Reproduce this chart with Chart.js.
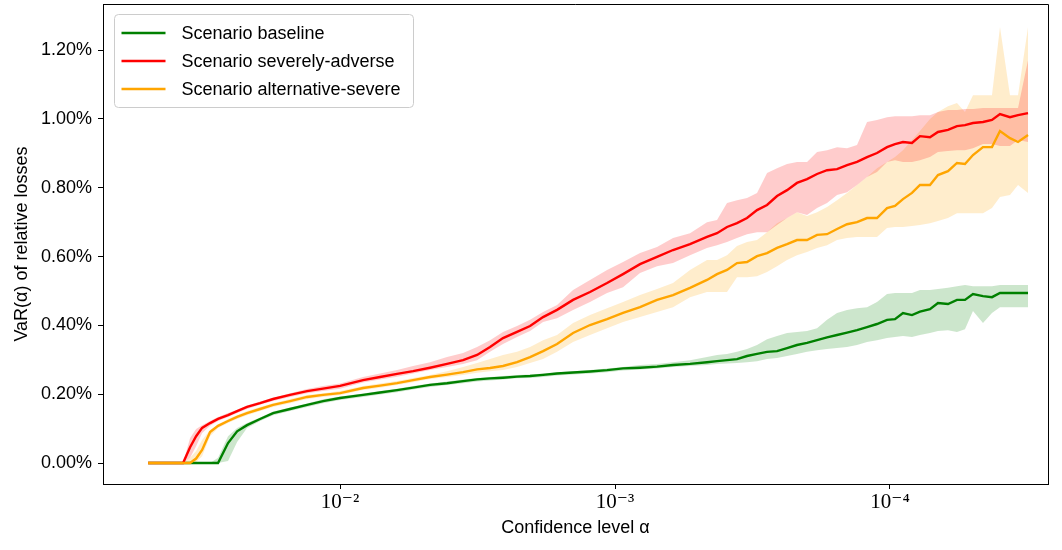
<!DOCTYPE html>
<html lang="en">
<head>
<meta charset="utf-8">
<title>VaR by scenario</title>
<script src="https://cdn.jsdelivr.net/npm/chart.js@4.4.1/dist/chart.umd.min.js"></script>
<style>
  body { margin: 0; background: #ffffff; }
  #varChart { display: block; }
</style>
</head>
<body>
<canvas id="varChart" width="1062" height="550"></canvas>
<script>
// confidence levels alpha, shared by every series
const alphas = [
  0.0499, 0.03723, 0.03511, 0.03338, 0.03175, 0.02970, 0.02778, 0.02555, 0.02368, 0.02179,
  0.01954, 0.01752, 0.01520, 0.01318, 0.01153, 0.01000, 0.008249, 0.007154, 0.006205, 0.005427,
  0.004708, 0.004083, 0.003571, 0.003175, 0.002848, 0.002555, 0.002272, 0.002037, 0.001827, 0.001625,
  0.001421, 0.001233, 0.001069, 0.0009352, 0.0008111, 0.0007036, 0.0006153, 0.0005337, 0.0004630, 0.0004257,
  0.0003915, 0.0003601, 0.0003311, 0.0003045, 0.0002800, 0.0002575, 0.0002368, 0.0002179, 0.0002003, 0.0001842,
  0.0001694, 0.0001558, 0.0001433, 0.0001318, 0.0001212, 0.0001115, 0.0001025, 0.0000959, 0.0000897, 0.00008318,
  0.0000778, 0.00007154, 0.00006692, 0.00006153, 0.00005707, 0.00005337, 0.00004991, 0.0000459, 0.00004257, 0.00003981,
  0.00003661, 0.00003423, 0.00003148
];

// VaR(alpha) in % of relative losses - baseline scenario
const baselineVaR = [
  0, 0, 0, 0, 0, 0, 0, 0.058, 0.092, 0.110,
  0.128, 0.145, 0.157, 0.169, 0.180, 0.189, 0.198, 0.205, 0.212, 0.219,
  0.227, 0.232, 0.238, 0.243, 0.246, 0.248, 0.251, 0.253, 0.256, 0.260,
  0.263, 0.266, 0.270, 0.275, 0.277, 0.280, 0.285, 0.288, 0.293, 0.296,
  0.299, 0.302, 0.311, 0.317, 0.323, 0.325, 0.334, 0.343, 0.349, 0.357,
  0.365, 0.372, 0.379, 0.386, 0.395, 0.404, 0.416, 0.418, 0.436, 0.430,
  0.440, 0.447, 0.465, 0.462, 0.474, 0.474, 0.491, 0.485, 0.482, 0.494,
  0.494, 0.494, 0.494
];
const baselineUpper = [
  0, 0, 0, 0, 0, 0, 0.015, 0.078, 0.102, 0.116,
  0.132, 0.150, 0.161, 0.173, 0.185, 0.193, 0.202, 0.209, 0.216, 0.224,
  0.231, 0.237, 0.243, 0.247, 0.250, 0.253, 0.256, 0.257, 0.260, 0.264,
  0.267, 0.270, 0.275, 0.279, 0.285, 0.288, 0.293, 0.299, 0.308, 0.314,
  0.317, 0.323, 0.331, 0.343, 0.360, 0.369, 0.378, 0.381, 0.384, 0.392,
  0.416, 0.436, 0.445, 0.450, 0.453, 0.468, 0.491, 0.494, 0.494, 0.494,
  0.503, 0.503, 0.506, 0.509, 0.514, 0.517, 0.514, 0.514, 0.514, 0.517,
  0.517, 0.517, 0.517
];
const baselineLower = [
  0, 0, 0, 0, 0, 0, 0, 0.006, 0.061, 0.102,
  0.122, 0.139, 0.151, 0.163, 0.174, 0.183, 0.192, 0.199, 0.206, 0.214,
  0.221, 0.227, 0.232, 0.237, 0.240, 0.243, 0.246, 0.247, 0.250, 0.254,
  0.257, 0.260, 0.264, 0.269, 0.272, 0.275, 0.279, 0.282, 0.285, 0.288,
  0.289, 0.291, 0.293, 0.296, 0.302, 0.305, 0.311, 0.317, 0.323, 0.328,
  0.331, 0.334, 0.337, 0.343, 0.352, 0.357, 0.363, 0.366, 0.369, 0.366,
  0.372, 0.378, 0.384, 0.386, 0.381, 0.389, 0.442, 0.407, 0.436, 0.453,
  0.453, 0.453, 0.453
];

// severely-adverse scenario
const severeVaR = [
  0, 0, 0.046, 0.078, 0.102, 0.116, 0.128, 0.139, 0.151, 0.163,
  0.174, 0.186, 0.198, 0.209, 0.216, 0.224, 0.241, 0.250, 0.259, 0.267,
  0.277, 0.288, 0.299, 0.314, 0.337, 0.363, 0.381, 0.398, 0.424, 0.445,
  0.474, 0.497, 0.523, 0.549, 0.578, 0.599, 0.619, 0.636, 0.657, 0.668,
  0.686, 0.697, 0.712, 0.735, 0.750, 0.776, 0.793, 0.814, 0.825, 0.840,
  0.851, 0.854, 0.866, 0.875, 0.889, 0.901, 0.918, 0.927, 0.933, 0.930,
  0.950, 0.947, 0.962, 0.968, 0.979, 0.982, 0.988, 0.991, 0.997, 1.014,
  1.005, 1.011, 1.017
];
const severeUpper = [
  0, 0, 0.073, 0.099, 0.110, 0.122, 0.134, 0.145, 0.155, 0.167,
  0.179, 0.190, 0.203, 0.215, 0.224, 0.231, 0.250, 0.260, 0.270, 0.282,
  0.293, 0.308, 0.320, 0.337, 0.357, 0.381, 0.398, 0.416, 0.439, 0.459,
  0.503, 0.532, 0.561, 0.584, 0.610, 0.628, 0.654, 0.668, 0.700, 0.706,
  0.756, 0.764, 0.770, 0.785, 0.843, 0.857, 0.869, 0.875, 0.875, 0.904,
  0.909, 0.918, 0.915, 0.924, 0.991, 0.997, 1.005, 1.008, 1.008, 1.008,
  1.011, 1.011, 1.020, 1.026, 1.026, 1.029, 1.029, 1.032, 1.032, 1.032,
  1.032, 1.032, 1.171
];
const severeLower = [
  0, 0, 0.015, 0.049, 0.087, 0.108, 0.122, 0.134, 0.145, 0.157,
  0.169, 0.180, 0.192, 0.203, 0.209, 0.216, 0.234, 0.243, 0.251, 0.260,
  0.270, 0.279, 0.288, 0.299, 0.323, 0.346, 0.366, 0.384, 0.410, 0.421,
  0.445, 0.468, 0.494, 0.511, 0.552, 0.572, 0.581, 0.604, 0.625, 0.633,
  0.642, 0.654, 0.665, 0.671, 0.671, 0.692, 0.712, 0.729, 0.721, 0.741,
  0.756, 0.779, 0.787, 0.808, 0.831, 0.846, 0.875, 0.880, 0.875, 0.875,
  0.880, 0.889, 0.904, 0.907, 0.909, 0.909, 0.915, 0.927, 0.927, 0.921,
  0.921, 0.939, 0.933
];

// alternative-severe scenario
const alternativeVaR = [
  0, 0, 0, 0.013, 0.038, 0.090, 0.108, 0.122, 0.134, 0.145,
  0.157, 0.169, 0.180, 0.192, 0.198, 0.203, 0.218, 0.225, 0.232, 0.241,
  0.250, 0.257, 0.264, 0.272, 0.276, 0.282, 0.293, 0.308, 0.325, 0.346,
  0.378, 0.401, 0.418, 0.436, 0.453, 0.474, 0.488, 0.509, 0.532, 0.549,
  0.561, 0.581, 0.584, 0.601, 0.610, 0.625, 0.636, 0.648, 0.648, 0.663,
  0.665, 0.680, 0.694, 0.700, 0.712, 0.712, 0.741, 0.747, 0.767, 0.785,
  0.808, 0.808, 0.837, 0.848, 0.872, 0.869, 0.895, 0.918, 0.918, 0.965,
  0.944, 0.933, 0.953
];
const alternativeUpper = [
  0, 0, 0.015, 0.035, 0.067, 0.096, 0.112, 0.128, 0.139, 0.151,
  0.163, 0.174, 0.186, 0.198, 0.203, 0.209, 0.224, 0.231, 0.238, 0.247,
  0.256, 0.267, 0.279, 0.291, 0.302, 0.314, 0.323, 0.337, 0.357, 0.372,
  0.407, 0.430, 0.450, 0.468, 0.488, 0.506, 0.523, 0.561, 0.590, 0.590,
  0.604, 0.631, 0.642, 0.648, 0.671, 0.697, 0.712, 0.729, 0.718, 0.729,
  0.744, 0.764, 0.785, 0.808, 0.831, 0.857, 0.875, 0.889, 0.909, 0.939,
  0.965, 1.000, 1.020, 1.037, 1.046, 1.020, 1.069, 1.069, 1.069, 1.267,
  1.069, 1.069, 1.267
];
const alternativeLower = [
  0, 0, 0, 0.003, 0.020, 0.078, 0.102, 0.116, 0.128, 0.139,
  0.151, 0.163, 0.174, 0.186, 0.192, 0.198, 0.212, 0.219, 0.227, 0.235,
  0.244, 0.250, 0.256, 0.262, 0.267, 0.270, 0.279, 0.291, 0.302, 0.323,
  0.352, 0.372, 0.392, 0.410, 0.424, 0.439, 0.453, 0.482, 0.497, 0.497,
  0.497, 0.540, 0.540, 0.543, 0.555, 0.572, 0.590, 0.604, 0.613, 0.625,
  0.633, 0.648, 0.654, 0.657, 0.657, 0.657, 0.683, 0.686, 0.686, 0.689,
  0.692, 0.697, 0.703, 0.712, 0.726, 0.726, 0.726, 0.726, 0.741, 0.773,
  0.779, 0.808, 0.785
];

const scenarioNames = ["Scenario baseline", "Scenario severely-adverse", "Scenario alternative-severe"];
const xTickValues = [1e-2, 1e-3, 1e-4];
const xTickLabels = ["10⁻²", "10⁻³", "10⁻⁴"];
const yTickValues = [0, 0.2, 0.4, 0.6, 0.8, 1.0, 1.2];

const lineColors = ["#008000", "#ff0000", "#ffa500"];
const bandColors = ["rgba(0,128,0,0.2)", "rgba(255,0,0,0.2)", "rgba(255,165,0,0.2)"];

const sansFont = "'Liberation Sans', Arial, sans-serif";
const serifFont = "'Liberation Serif', 'DejaVu Serif', serif";

Chart.defaults.color = "#000";
Chart.defaults.font.family = sansFont;
Chart.defaults.font.size = 18;

function toPoints(values) {
  return values.map((v, i) => ({ x: alphas[i], y: v }));
}

function lineDataset(label, values, color) {
  return {
    label: label,
    data: toPoints(values),
    borderColor: color,
    borderWidth: 2.4,
    pointRadius: 0,
    fill: false,
    tension: 0
  };
}

// upper bound first, lower bound fills back up to it
function bandDatasets(upper, lower, color) {
  return [
    { data: toPoints(upper), borderWidth: 0, borderColor: "transparent", pointRadius: 0, fill: false },
    { data: toPoints(lower), borderWidth: 0, borderColor: "transparent", pointRadius: 0, fill: "-1", backgroundColor: color }
  ];
}

// top and right spines
const frameBox = {
  id: "frameBox",
  afterDatasetsDraw(chart) {
    const { ctx, chartArea } = chart;
    ctx.save();
    ctx.strokeStyle = "#000";
    ctx.lineWidth = 1;
    ctx.beginPath();
    ctx.moveTo(chartArea.left, chartArea.top + 0.5);
    ctx.lineTo(chartArea.right + 0.5, chartArea.top + 0.5);
    ctx.lineTo(chartArea.right + 0.5, chartArea.bottom);
    ctx.stroke();
    ctx.restore();
  }
};

// framed legend in the upper left corner of the plot
const legendBox = {
  id: "legendBox",
  afterDraw(chart) {
    const { ctx, chartArea } = chart;
    const left = chartArea.left + 11.5;
    const top = chartArea.top + 10.5;
    ctx.save();
    ctx.beginPath();
    ctx.roundRect(left, top, 299, 93, 4);
    ctx.fillStyle = "rgba(255,255,255,0.8)";
    ctx.fill();
    ctx.strokeStyle = "#cccccc";
    ctx.lineWidth = 1;
    ctx.stroke();
    ctx.font = "18px " + sansFont;
    ctx.textBaseline = "middle";
    scenarioNames.forEach((name, i) => {
      const y = Math.round(top + 18 + i * 28);
      ctx.strokeStyle = lineColors[i];
      ctx.lineWidth = 2.4;
      ctx.beginPath();
      ctx.moveTo(left + 7, y);
      ctx.lineTo(left + 51, y);
      ctx.stroke();
      ctx.fillStyle = "#000";
      ctx.fillText(name, left + 67, y + 1);
    });
    ctx.restore();
  }
};

const varChart = new Chart(document.getElementById("varChart"), {
  type: "line",
  data: {
    datasets: [
      lineDataset(scenarioNames[2], alternativeVaR, lineColors[2]),
      lineDataset(scenarioNames[1], severeVaR, lineColors[1]),
      lineDataset(scenarioNames[0], baselineVaR, lineColors[0]),
      ...bandDatasets(baselineUpper, baselineLower, bandColors[0]),
      ...bandDatasets(severeUpper, severeLower, bandColors[1]),
      ...bandDatasets(alternativeUpper, alternativeLower, bandColors[2])
    ]
  },
  options: {
    responsive: false,
    animation: false,
    layout: { padding: { left: 0, right: 14, top: 4, bottom: 0 } },
    plugins: {
      legend: { display: false },
      tooltip: { enabled: false }
    },
    scales: {
      x: {
        type: "logarithmic",
        reverse: true,
        min: 2.663e-5,
        max: 0.0728,
        afterBuildTicks: scale => {
          scale.ticks = xTickValues.map(v => ({ value: v }));
        },
        afterFit: scale => {
          scale.height = 66;
          scale.paddingLeft = 0;
          scale.paddingRight = 0;
        },
        ticks: {
          callback: (value, index) => xTickLabels[index],
          autoSkip: false,
          maxRotation: 0,
          padding: 1,
          font: { family: serifFont, size: 21 }
        },
        grid: { drawOnChartArea: false, tickLength: 5, color: "#000" },
        border: { color: "#000" },
        title: {
          display: true,
          text: "Confidence level α",
          padding: { top: 0, bottom: 11 },
          font: { size: 18 }
        }
      },
      y: {
        min: -0.061,
        max: 1.334,
        afterBuildTicks: scale => {
          scale.ticks = yTickValues.map(v => ({ value: v }));
        },
        afterFit: scale => {
          scale.width = 103;
          scale.paddingTop = 0;
          scale.paddingBottom = 0;
        },
        ticks: {
          callback: value => value.toFixed(2) + "%",
          padding: 6,
          font: { size: 18 }
        },
        grid: { drawOnChartArea: false, tickLength: 5, color: "#000" },
        border: { color: "#000" },
        title: {
          display: true,
          text: "VaR(α) of relative losses",
          padding: { top: 11, bottom: 0 },
          font: { size: 18 }
        }
      }
    }
  },
  plugins: [frameBox, legendBox]
});
</script>
</body>
</html>
